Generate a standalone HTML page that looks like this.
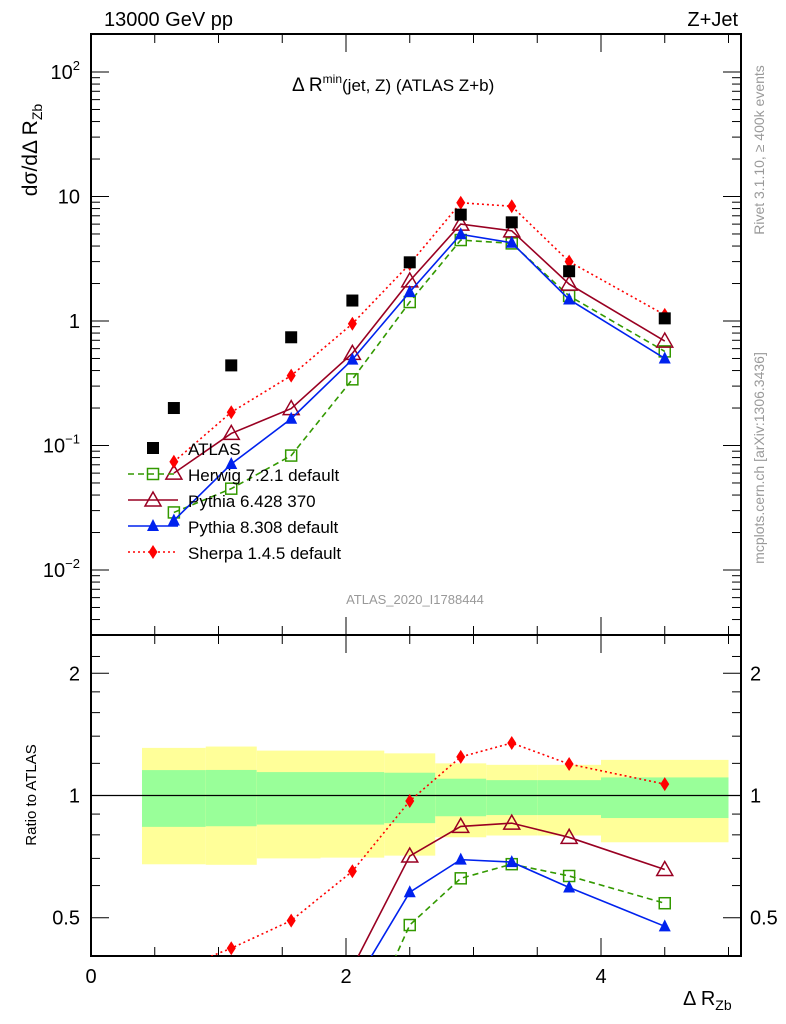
<!DOCTYPE html>
<html><head><meta charset="utf-8"><style>
html,body{margin:0;padding:0;background:#fff;width:786px;height:1024px;overflow:hidden}
svg{display:block;font-family:"Liberation Sans",sans-serif}
</style></head><body>
<svg id="c" width="786" height="1024" viewBox="0 0 786 1024" xmlns="http://www.w3.org/2000/svg"></svg>
<script>
const xs=[0.65,1.1,1.57,2.05,2.5,2.9,3.3,3.75,4.5];
const binEdges=[0.4,0.9,1.3,1.8,2.3,2.7,3.1,3.5,4.0,5.0];
const atlas=[0.20,0.44,0.74,1.46,2.96,7.15,6.2,2.51,1.05];
const herwig=[0.029,0.045,0.083,0.34,1.42,4.47,4.2,1.59,0.57];
const pythia6=[0.06,0.125,0.198,0.55,2.1,6.0,5.3,1.98,0.69];
const pythia8=[0.025,0.071,0.164,0.49,1.71,4.97,4.25,1.49,0.50];
const sherpa=[0.074,0.185,0.364,0.95,2.87,8.9,8.35,3.0,1.12];
const yellowUp=[1.31,1.32,1.29,1.29,1.27,1.20,1.19,1.19,1.224];
const yellowDn=[0.677,0.675,0.70,0.703,0.711,0.789,0.797,0.797,0.767];
const greenUp=[1.155,1.156,1.142,1.142,1.138,1.10,1.091,1.091,1.108];
const greenDn=[0.837,0.84,0.848,0.848,0.855,0.889,0.895,0.895,0.88];
const ratioTicks=[0.5,1,2];
const ratioTickLabels=["0.5","1","2"];
const xTicks=[0,2,4];

const NS="http://www.w3.org/2000/svg";
const svg=document.getElementById('c');
const L=91,R=741,T=34,MB=635,RB=956;
const X=v=>L+127.5*v;
const Y=v=>321-124.5*Math.log10(v);
const YR=r=>795.5-406*Math.log10(r);
function el(tag,attrs,parent){const e=document.createElementNS(NS,tag);for(const k in attrs)e.setAttribute(k,attrs[k]);(parent||svg).appendChild(e);return e;}
function txt(s,x,y,size,attrs,parent){const t=el('text',Object.assign({x:x,y:y,'font-size':size},attrs||{}),parent);t.textContent=s;return t;}

const defs=el('defs',{});
const cp1=el('clipPath',{id:'cm'},defs);el('rect',{x:L,y:T,width:R-L,height:MB-T},cp1);
const cp2=el('clipPath',{id:'cr'},defs);el('rect',{x:L,y:MB,width:R-L,height:RB-MB},cp2);

const bands=el('g',{'clip-path':'url(#cr)'});


for(let i=0;i<xs.length;i++){
  const x0=X(binEdges[i]),x1=X(binEdges[i+1]);
  const y=el('rect',{x:x0,y:YR(yellowUp[i]),width:x1-x0,height:YR(yellowDn[i])-YR(yellowUp[i]),fill:'#ffff99'},bands);
  
  
  const g=el('rect',{x:x0,y:YR(greenUp[i]),width:x1-x0,height:YR(greenDn[i])-YR(greenUp[i]),fill:'#99ff99'},bands);
  
  
}
el('line',{x1:L,x2:R,y1:YR(1),y2:YR(1),stroke:'#000','stroke-width':1.3});

const fm=el('rect',{x:L,y:T,width:R-L,height:MB-T,fill:'none',stroke:'#000','stroke-width':2});

const fr=el('rect',{x:L,y:MB,width:R-L,height:RB-MB,fill:'none',stroke:'#000','stroke-width':2});


for(let v=0;v<=5.01;v+=0.5){
  const major=Math.abs(v-Math.round(v/2)*2)<1e-6;
  const len=major?18:9;const x=X(v);
  el('line',{x1:x,x2:x,y1:T,y2:T+len,stroke:'#000'});
  el('line',{x1:x,x2:x,y1:MB,y2:MB-len,stroke:'#000'});
  el('line',{x1:x,x2:x,y1:MB,y2:MB+len,stroke:'#000'});
  el('line',{x1:x,x2:x,y1:RB,y2:RB-len,stroke:'#000'});
}
xTicks.forEach(v=>{const t=txt(String(v),X(v),983,20,{'text-anchor':'middle'});});

for(let d=-3;d<=2;d++){
  for(let m=1;m<10;m++){
    const v=m*Math.pow(10,d);const y=Y(v);
    if(y<T||y>MB)continue;
    const len=m===1?18:9;
    el('line',{x1:L,x2:L+len,y1:y,y2:y,stroke:'#000'});
    el('line',{x1:R,x2:R-len,y1:y,y2:y,stroke:'#000'});
  }
}
[-2,-1,0,1,2].forEach(d=>{
  const y=Y(Math.pow(10,d))+7;
  const t=el('text',{x:80,y:y,'font-size':20,'text-anchor':'end'});
  
  if(d===0)t.textContent='1';else if(d===1)t.textContent='10';
  else{t.textContent='10';const s=el('tspan',{'font-size':13,dy:-9},t);s.textContent=d===2?'2':(d===-1?'\u22121':'\u22122');}
});

[0.4,0.5,0.6,0.7,0.8,0.9,1,1.2,1.4,1.6,1.8,2,2.2].forEach(v=>{
  const y=YR(v);if(y<MB||y>RB)return;
  const len=(v===0.5||v===1||v===2)?18:9;
  el('line',{x1:L,x2:L+len,y1:y,y2:y,stroke:'#000'});
  el('line',{x1:R,x2:R-len,y1:y,y2:y,stroke:'#000'});
});
ratioTicks.forEach((v,i)=>{
  const a=txt(ratioTickLabels[i],80,YR(v)+7,20,{'text-anchor':'end'});
  const b=txt(ratioTickLabels[i],750,YR(v)+7,20,{});
});

function marker(type,x,y,color,g){
  if(type==='sq')return el('rect',{x:x-6,y:y-6,width:12,height:12,fill:color},g);
  if(type==='osq')return el('rect',{x:x-5.5,y:y-5.5,width:11,height:11,fill:'none',stroke:color,'stroke-width':1.5},g);
  if(type==='otri')return el('polygon',{points:`${x},${y-8} ${x-8},${y+6} ${x+8},${y+6}`,fill:'none',stroke:color,'stroke-width':1.5},g);
  if(type==='tri')return el('polygon',{points:`${x},${y-7} ${x-6},${y+5} ${x+6},${y+5}`,fill:color},g);
  if(type==='dia')return el('polygon',{points:`${x},${y-7} ${x-4.5},${y} ${x},${y+7} ${x+4.5},${y}`,fill:color},g);
}
const series=[
  {name:'herwig',vals:herwig,color:'#339900',dash:'6,4',mk:'osq',lw:1.6},
  {name:'pythia6',vals:pythia6,color:'#990022',dash:'',mk:'otri',lw:1.6},
  {name:'pythia8',vals:pythia8,color:'#0022ee',dash:'',mk:'tri',lw:1.6},
  {name:'sherpa',vals:sherpa,color:'#ff0000',dash:'2,3',mk:'dia',lw:1.6},
];
series.forEach(s=>{
  const gm=el('g',{'clip-path':'url(#cm)'});
  
  const pts=s.vals.map((v,i)=>X(xs[i])+','+Y(v)).join(' ');
  el('polyline',{points:pts,fill:'none',stroke:s.color,'stroke-width':s.lw,'stroke-dasharray':s.dash},gm);
  s.vals.forEach((v,i)=>{const m=marker(s.mk,X(xs[i]),Y(v),s.color,gm);});
  const gr=el('g',{'clip-path':'url(#cr)'});
  
  const rp=s.vals.map((v,i)=>X(xs[i])+','+YR(v/atlas[i])).join(' ');
  el('polyline',{points:rp,fill:'none',stroke:s.color,'stroke-width':s.lw,'stroke-dasharray':s.dash},gr);
  s.vals.forEach((v,i)=>{const m=marker(s.mk,X(xs[i]),YR(v/atlas[i]),s.color,gr);});
});
const ga=el('g',{'clip-path':'url(#cm)'});

atlas.forEach((v,i)=>{const m=marker('sq',X(xs[i]),Y(v),'#000',ga);});

const lg=el('g',{});

const leg=[['ATLAS',null],['Herwig 7.2.1 default',series[0]],['Pythia 6.428 370',series[1]],['Pythia 8.308 default',series[2]],['Sherpa 1.4.5 default',series[3]]];
leg.forEach((e,i)=>{
  const y=448+i*26;
  const g=el('g',{},lg);
  
  if(!e[1])marker('sq',153,y,'#000',g);
  else{el('line',{x1:128,x2:178,y1:y,y2:y,stroke:e[1].color,'stroke-width':1.6,'stroke-dasharray':e[1].dash},g);marker(e[1].mk,153,y,e[1].color,g);}
  txt(e[0],188,y+7,17,{},g);
});

const texts=[
 ['13000 GeV pp',104,26,20,{},'energy-label'],
 ['Z+Jet',738,26,20,{'text-anchor':'end'},'process-label'],
 ['ATLAS_2020_I1788444',415,604,13,{'text-anchor':'middle',fill:'#999'},'analysis-id'],
];
texts.forEach(a=>{const t=txt(a[0],a[1],a[2],a[3],a[4]);});
const title=el('text',{x:292,y:91,'font-size':17});

title.innerHTML='<tspan font-size="19">Δ R</tspan><tspan font-size="12" dy="-8">min</tspan><tspan dy="8">(jet, Z) (ATLAS Z+b)</tspan>';
const yl=el('text',{transform:'translate(37,150) rotate(-90)','font-size':21,'text-anchor':'middle'});

yl.innerHTML='dσ/dΔ R<tspan font-size="14" dy="5">Zb</tspan>';
const rl=el('text',{transform:'translate(36,795) rotate(-90)','font-size':15,'text-anchor':'middle'});
rl.textContent='Ratio to ATLAS';
const xl=el('text',{x:683,y:1005,'font-size':20});

xl.innerHTML='Δ R<tspan font-size="14" dy="5">Zb</tspan>';
const r1=el('text',{transform:'translate(764,150) rotate(-90)','font-size':14,'text-anchor':'middle',fill:'#999'});
r1.textContent='Rivet 3.1.10, \u2265 400k events';
const r2=el('text',{transform:'translate(764,458) rotate(-90)','font-size':14,'text-anchor':'middle',fill:'#999'});
r2.textContent='mcplots.cern.ch [arXiv:1306.3436]';
</script>
</body></html>
